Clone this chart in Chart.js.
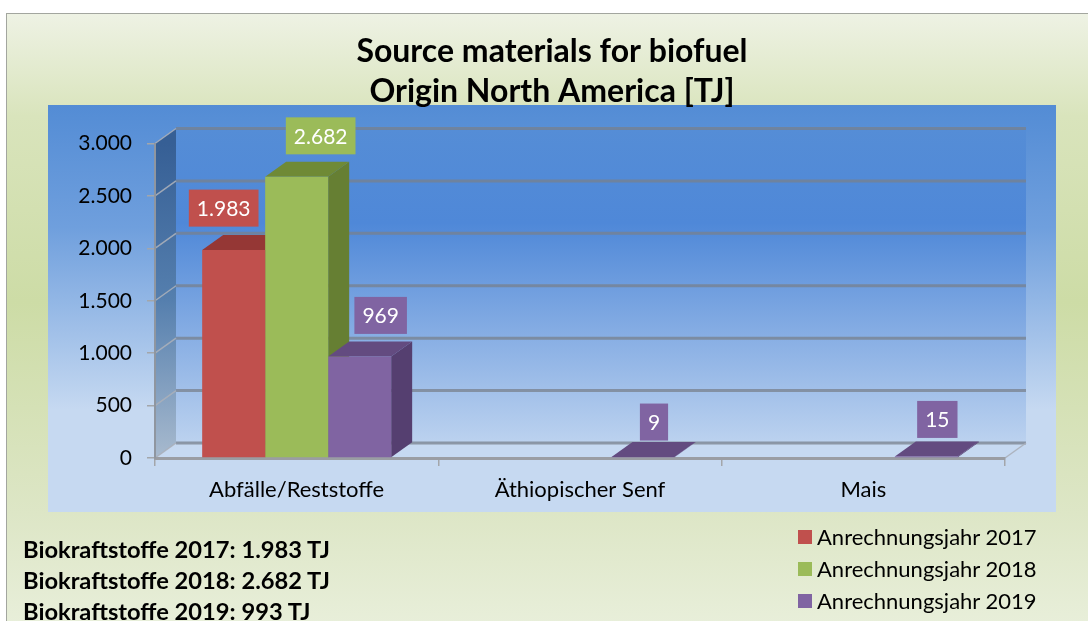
<!DOCTYPE html>
<html lang="de">
<head>
<meta charset="utf-8">
<title>Source materials for biofuel</title>
<script src="https://cdn.jsdelivr.net/npm/chart.js@4/dist/chart.umd.min.js"></script>
<style>
  html, body { margin: 0; padding: 0; background: #fff; overflow: hidden; }
  #page { position: relative; width: 1088px; height: 621px; overflow: hidden; font-family: Lato, sans-serif; }
  #frame {
    position: absolute; left: 6px; top: 13px; width: 1100px; height: 640px;
    border: 1px solid #a3a69f;
    background: linear-gradient(180deg, #eef2e4 0%, #d9e4bc 16%, #cddcA6 45%, #dde6c6 78%, #ebf1df 100%);
  }
  #chart { position: absolute; left: 0; top: 0; }
  #summary { position: absolute; left: 23px; top: 534px; font-weight: 700; font-size: 23.7px; line-height: 31px; color: #000; white-space: nowrap; }
  #legend { position: absolute; left: 798px; top: 521px; font-size: 22px; line-height: 32px; color: #000; white-space: nowrap; }
  #legend div { display: flex; align-items: center; }
  #legend span { display: inline-block; width: 14px; height: 14px; margin-right: 5px; }
</style>
</head>
<body>
<div id="page">
  <div id="frame"></div>
  <canvas id="chart" width="1088" height="621"></canvas>
  <div id="summary"></div>
  <div id="legend"></div>
</div>
<script>
// ------------------- Data -------------------
const titleLines = ['Source materials for biofuel', 'Origin North America [TJ]'];
const categories = ['Abfälle/Reststoffe', 'Äthiopischer Senf', 'Mais'];
const seriesNames = ['Anrechnungsjahr 2017', 'Anrechnungsjahr 2018', 'Anrechnungsjahr 2019'];
const values2017 = [1983, null, null];
const values2018 = [2682, null, null];
const values2019 = [969, 9, 15];
const summaryYears = [2017, 2018, 2019];
const summaryTotals = [1983, 2682, 993];

// ------------------- Look -------------------
const FONT = 'Lato, sans-serif';
const DEPTH_X = 21;
const DEPTH_Y = 15;
const frontColors = ['#c0504d', '#9bbb59', '#8064a2'];
const topColors = ['#953735', '#6f8a36', '#634b80'];
const sideColors = ['#7f2f2d', '#667f33', '#553f70'];

// label offset from the top centre of each bar [dataset][category]
const labelOffsets = [
  [[-10, -42]],
  [[24, -41]],
  [[21, -41], [11, -35], [11, -37]]
];

const fmt = (v) => v.toLocaleString('de-DE');

// fundo azul e paredes do "3D"
const wallsPlugin = {
  id: 'walls',
  // o título fica centrado em x = 552, não no meio da área toda
  afterLayout(chart) {
    chart.titleBlock.left = 99;
  },
  beforeDraw(chart) {
    const { ctx, chartArea: a, scales: { y } } = chart;
    const top = y.getPixelForValue(3000);
    const bottom = y.getPixelForValue(0);

    let g = ctx.createLinearGradient(0, 105, 0, 512);
    g.addColorStop(0, '#538cd5');
    g.addColorStop(0.3, '#6f9fdd');
    g.addColorStop(0.75, '#c6d9f1');
    g.addColorStop(1, '#c6d9f1');
    ctx.fillStyle = g;
    ctx.fillRect(48, 105, 1008, 407);

    // parede do fundo
    g = ctx.createLinearGradient(0, top - DEPTH_Y, 0, bottom - DEPTH_Y);
    g.addColorStop(0, '#558dd6');
    g.addColorStop(0.3, '#4f88d8');
    g.addColorStop(1, '#bcd2ef');
    ctx.fillStyle = g;
    ctx.fillRect(a.left + DEPTH_X, top - DEPTH_Y, a.width, bottom - top);

    // parede esquerda
    g = ctx.createLinearGradient(0, top, 0, bottom);
    g.addColorStop(0, '#365f95');
    g.addColorStop(0.5, '#557fae');
    g.addColorStop(1, '#a8bace');
    ctx.fillStyle = g;
    polygon(ctx, [[a.left, top], [a.left + DEPTH_X, top - DEPTH_Y], [a.left + DEPTH_X, bottom - DEPTH_Y], [a.left, bottom]]);

    // linhas de grade na parede
    ctx.lineWidth = 3;
    ctx.strokeStyle = 'rgba(120,128,140,0.75)';
    y.ticks.forEach((t) => {
      const py = y.getPixelForValue(t.value);
      ctx.beginPath();
      ctx.moveTo(a.left + DEPTH_X, py - DEPTH_Y);
      ctx.lineTo(a.right + DEPTH_X, py - DEPTH_Y);
      ctx.stroke();
    });
    ctx.lineWidth = 1.5;
    ctx.strokeStyle = 'rgba(170,175,185,0.9)';
    y.ticks.forEach((t) => {
      const py = y.getPixelForValue(t.value);
      ctx.beginPath();
      ctx.moveTo(a.left, py);
      ctx.lineTo(a.left + DEPTH_X, py - DEPTH_Y);
      ctx.stroke();
    });
    ctx.beginPath();
    ctx.moveTo(a.right, bottom);
    ctx.lineTo(a.right + DEPTH_X, bottom - DEPTH_Y);
    ctx.stroke();
  },
  // lados e topos das barras, em ordem de série
  beforeDatasetsDraw(chart) {
    const { ctx } = chart;
    chart.data.datasets.forEach((ds, i) => {
      chart.getDatasetMeta(i).data.forEach((bar, j) => {
        if (ds.data[j] === null) return;
        const left = bar.x - bar.width / 2;
        const right = bar.x + bar.width / 2;
        ctx.fillStyle = sideColors[i];
        polygon(ctx, [[right, bar.y], [right + DEPTH_X, bar.y - DEPTH_Y], [right + DEPTH_X, bar.base - DEPTH_Y], [right, bar.base]]);
        ctx.fillStyle = topColors[i];
        polygon(ctx, [[left, bar.y], [left + DEPTH_X, bar.y - DEPTH_Y], [right + DEPTH_X, bar.y - DEPTH_Y], [right, bar.y]]);
      });
    });
  },
  // caixas com os valores
  afterDatasetsDraw(chart) {
    const { ctx } = chart;
    ctx.font = '21px ' + FONT;
    ctx.textAlign = 'center';
    ctx.textBaseline = 'middle';
    chart.data.datasets.forEach((ds, i) => {
      chart.getDatasetMeta(i).data.forEach((bar, j) => {
        if (ds.data[j] === null) return;
        const text = fmt(ds.data[j]);
        const [dx, dy] = labelOffsets[i][j];
        const w = ctx.measureText(text).width + 16;
        ctx.fillStyle = frontColors[i];
        ctx.fillRect(bar.x + dx - w / 2, bar.y + dy - 18.5, w, 37);
        ctx.fillStyle = '#fff';
        ctx.fillText(text, bar.x + dx, bar.y + dy + 1);
      });
    });
  }
};

function polygon(ctx, points) {
  ctx.beginPath();
  points.forEach(([x, y], k) => (k ? ctx.lineTo(x, y) : ctx.moveTo(x, y)));
  ctx.closePath();
  ctx.fill();
}

// ------------------- Chart -------------------
const barShape = { categoryPercentage: 0.667, barPercentage: 1 };

const chart = new Chart(document.getElementById('chart'), {
  type: 'bar',
  data: {
    labels: categories,
    datasets: [
      { label: seriesNames[0], data: values2017, backgroundColor: frontColors[0], ...barShape },
      { label: seriesNames[1], data: values2018, backgroundColor: frontColors[1], ...barShape },
      { label: seriesNames[2], data: values2019, backgroundColor: frontColors[2], ...barShape }
    ]
  },
  options: {
    responsive: false,
    animation: false,
    layout: { padding: { top: 32, left: 0, right: 83, bottom: 109 } },
    plugins: {
      legend: { display: false },
      tooltip: { enabled: false },
      title: {
        display: true,
        text: titleLines,
        color: '#000',
        align: 'center',
        font: { family: FONT, size: 32, weight: '700', lineHeight: 1.25 },
        padding: { top: 0, bottom: 31.5 }
      }
    },
    scales: {
      x: {
        afterFit: (scale) => { scale.height = 54; },
        border: { color: '#9a9da3', width: 3 },
        grid: { drawOnChartArea: false, color: '#a3a6aa', tickLength: 8, lineWidth: 1.5 },
        ticks: { color: '#000', font: { family: FONT, size: 22 }, padding: 11, maxRotation: 0 }
      },
      y: {
        min: 0,
        max: 3000,
        afterFit: (scale) => { scale.width = 155; },
        border: { color: '#8f96a0', width: 2 },
        grid: { drawOnChartArea: false, color: '#a3a6aa', tickLength: 8, lineWidth: 1.5 },
        ticks: { stepSize: 500, color: '#000', font: { family: FONT, size: 21 }, padding: 15, callback: (v) => fmt(v) }
      }
    }
  },
  plugins: [wallsPlugin]
});

// ------------------- Legend and summary -------------------
document.getElementById('legend').innerHTML = chart.data.datasets
  .map((ds) => `<div><span style="background:${ds.backgroundColor}"></span>${ds.label}</div>`)
  .join('');

document.getElementById('summary').innerHTML = summaryYears
  .map((year, i) => `<div>Biokraftstoffe ${year}: ${fmt(summaryTotals[i])} TJ</div>`)
  .join('');
</script>
</body>
</html>
